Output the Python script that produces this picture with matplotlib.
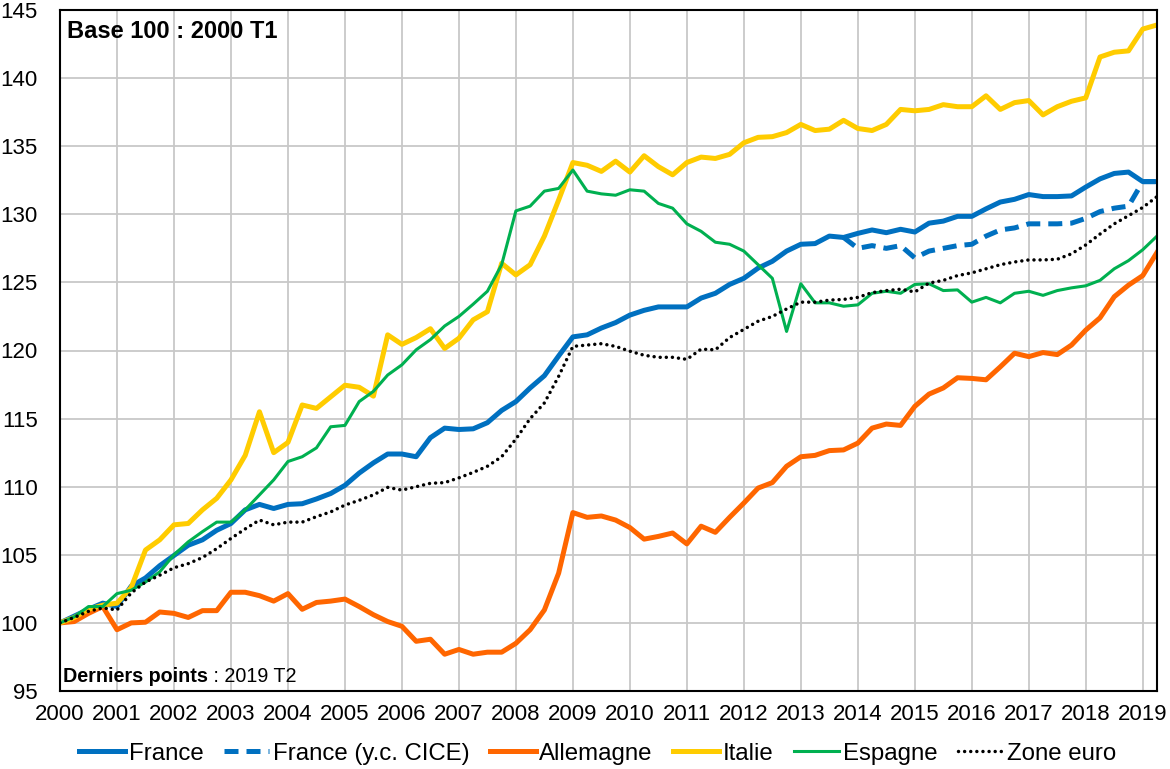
import numpy as np
import pandas as pd
import matplotlib
matplotlib.use("Agg")
import matplotlib.pyplot as plt

plt.rcParams['font.family'] = ['Liberation Sans', 'DejaVu Sans']

# quarterly index, base 100 = 2000 T1, from 2000 T1 to 2019 T2
quarters = pd.period_range('2000Q1', '2019Q2', freq='Q')

france = [100, 100.5, 101.0, 101.45, 101.2, 102.7, 103.3, 104.2, 104.95, 105.7,
          106.1, 106.8, 107.3, 108.3, 108.7, 108.4, 108.7, 108.75, 109.1, 109.5,
          110.1, 111.0, 111.75, 112.4, 112.4, 112.2, 113.6, 114.3, 114.2, 114.25,
          114.7, 115.6, 116.25, 117.25, 118.15, 119.6, 121.0, 121.15, 121.65, 122.05,
          122.6, 122.95, 123.2, 123.2, 123.2, 123.85, 124.2, 124.85, 125.3, 126.05,
          126.55, 127.3, 127.8, 127.85, 128.4, 128.3, 128.6, 128.85, 128.65, 128.9,
          128.7, 129.35, 129.5, 129.85, 129.85, 130.4, 130.9, 131.1, 131.45, 131.3,
          131.3, 131.35, 132.0, 132.6, 133.0, 133.1, 132.4, 132.4]

# France y.c. CICE starts in 2013 T4 (index 55)
cice_start = 55
france_cice = [128.3, 127.5, 127.7, 127.5, 127.7, 126.8, 127.3, 127.5, 127.7, 127.8,
               128.4, 128.85, 129.0, 129.3, 129.3, 129.3, 129.35, 129.7, 130.2, 130.45,
               130.6, 132.4, 132.4]

allemagne = [100, 100.1, 100.7, 101.2, 99.5, 100.0, 100.05, 100.8, 100.7, 100.4,
             100.9, 100.9, 102.25, 102.25, 102.0, 101.6, 102.15, 101.0, 101.5, 101.6,
             101.75, 101.2, 100.6, 100.1, 99.75, 98.65, 98.8, 97.7, 98.05, 97.7,
             97.85, 97.85, 98.5, 99.5, 100.95, 103.65, 108.1, 107.75, 107.85, 107.55,
             107.0, 106.15, 106.35, 106.6, 105.8, 107.1, 106.65, 107.75, 108.8, 109.9,
             110.3, 111.5, 112.2, 112.3, 112.65, 112.7, 113.2, 114.3, 114.6, 114.5,
             115.9, 116.8, 117.25, 118.0, 117.95, 117.85, 118.8, 119.8, 119.55, 119.85,
             119.7, 120.4, 121.5, 122.4, 123.95, 124.8, 125.5, 127.2]

italie = [100, 100.4, 101.0, 101.3, 101.45, 102.6, 105.35, 106.1, 107.2, 107.3,
          108.3, 109.15, 110.5, 112.3, 115.5, 112.5, 113.25, 116.0, 115.75, 116.6,
          117.45, 117.3, 116.65, 121.15, 120.45, 120.95, 121.6, 120.15, 120.9, 122.25,
          122.85, 126.4, 125.55, 126.3, 128.4, 131.05, 133.8, 133.6, 133.15, 133.9,
          133.1, 134.3, 133.5, 132.9, 133.8, 134.2, 134.1, 134.4, 135.25, 135.65,
          135.7, 136.0, 136.6, 136.15, 136.25, 136.9, 136.3, 136.15, 136.6, 137.7,
          137.6, 137.7, 138.05, 137.9, 137.9, 138.7, 137.7, 138.2, 138.35, 137.3,
          137.9, 138.3, 138.55, 141.55, 141.9, 142.0, 143.6, 143.9]

espagne = [100, 100.45, 101.2, 101.2, 102.15, 102.4, 103.0, 103.75, 105.0, 105.95,
           106.7, 107.4, 107.4, 108.3, 109.4, 110.5, 111.85, 112.2, 112.85, 114.4,
           114.5, 116.25, 117.0, 118.2, 118.95, 120.05, 120.8, 121.8, 122.5, 123.4,
           124.35, 126.3, 130.25, 130.6, 131.7, 131.9, 133.25, 131.7, 131.5, 131.4,
           131.8, 131.7, 130.8, 130.45, 129.3, 128.75, 127.95, 127.8, 127.3, 126.3,
           125.3, 121.4, 124.9, 123.5, 123.5, 123.25, 123.35, 124.2, 124.35, 124.2,
           124.85, 124.9, 124.4, 124.45, 123.55, 123.9, 123.5, 124.2, 124.35, 124.05,
           124.4, 124.6, 124.75, 125.15, 126.0, 126.6, 127.4, 128.4]

zone_euro = [100, 100.4, 100.85, 101.1, 100.95, 102.2, 103.0, 103.5, 104.05, 104.35,
             104.8, 105.45, 106.2, 106.9, 107.55, 107.2, 107.4, 107.4, 107.8, 108.15,
             108.65, 109.0, 109.4, 109.95, 109.75, 110.0, 110.25, 110.3, 110.65, 111.05,
             111.5, 112.2, 113.5, 115.0, 116.15, 118.1, 120.3, 120.4, 120.5, 120.3,
             119.95, 119.65, 119.5, 119.5, 119.35, 120.1, 120.05, 120.95, 121.55, 122.15,
             122.5, 123.05, 123.55, 123.55, 123.7, 123.75, 123.9, 124.25, 124.4, 124.5,
             124.3, 124.95, 125.15, 125.5, 125.7, 126.0, 126.3, 126.5, 126.65, 126.65,
             126.7, 127.1, 127.75, 128.55, 129.3, 129.9, 130.5, 131.3]

x = quarters.year + (quarters.quarter - 1) / 4.0

fig = plt.figure(figsize=(11.7, 7.69), dpi=100)
ax = fig.add_axes([60 / 1170, 1 - 691 / 769, 1097 / 1170, 681 / 769])

ax.plot(x, france, color='#0070C0', lw=3.6, label='France', solid_joinstyle='round')
ax.plot(x[cice_start:], france_cice, color='#0070C0', lw=3.6, ls=(0, (2.8, 1.6)),
        label='France (y.c. CICE)')
ax.plot(x, allemagne, color='#FF6600', lw=3.6, label='Allemagne', solid_joinstyle='round')
ax.plot(x, italie, color='#FFCC00', lw=3.6, label='Italie', solid_joinstyle='round')
ax.plot(x, espagne, color='#00B050', lw=2.2, label='Espagne', solid_joinstyle='round')
ax.plot(x, zone_euro, color='black', lw=2.5, ls=(0, (0.01, 1.75)),
        dash_capstyle='round', label='Zone euro')

ax.set_xlim(2000, 2019.25)
ax.set_ylim(95, 145)
ax.set_xticks(range(2000, 2020))
ax.set_yticks(range(95, 146, 5))
ax.tick_params(axis='both', length=0, labelsize=16)
ax.tick_params(axis='y', pad=16)
ax.tick_params(axis='x', pad=9)
ax.grid(True, color='#C8C8C8', lw=1.3)
ax.set_axisbelow(True)
for s in ax.spines.values():
    s.set_color('black')
    s.set_linewidth(1.5)

ax.text(7 / 1097, 0.985, 'Base 100 : 2000 T1', transform=ax.transAxes,
        fontsize=17, fontweight='bold', va='top', ha='left')

t1 = ax.text(3 / 1097, 0.008, 'Derniers points', transform=ax.transAxes,
             fontsize=14.2, fontweight='bold', va='bottom', ha='left')
fig.canvas.draw()
bb = t1.get_window_extent().transformed(ax.transAxes.inverted())
ax.text(bb.x1, 0.008, ' : 2019 T2', transform=ax.transAxes,
        fontsize=14.2, va='bottom', ha='left')

fig.legend(loc='center', bbox_to_anchor=(0.511, 0.02), ncol=6, frameon=False,
           fontsize=17.3, handlelength=1.9, handletextpad=0.15, columnspacing=0.85)

fig.savefig('out.png', dpi=100)
